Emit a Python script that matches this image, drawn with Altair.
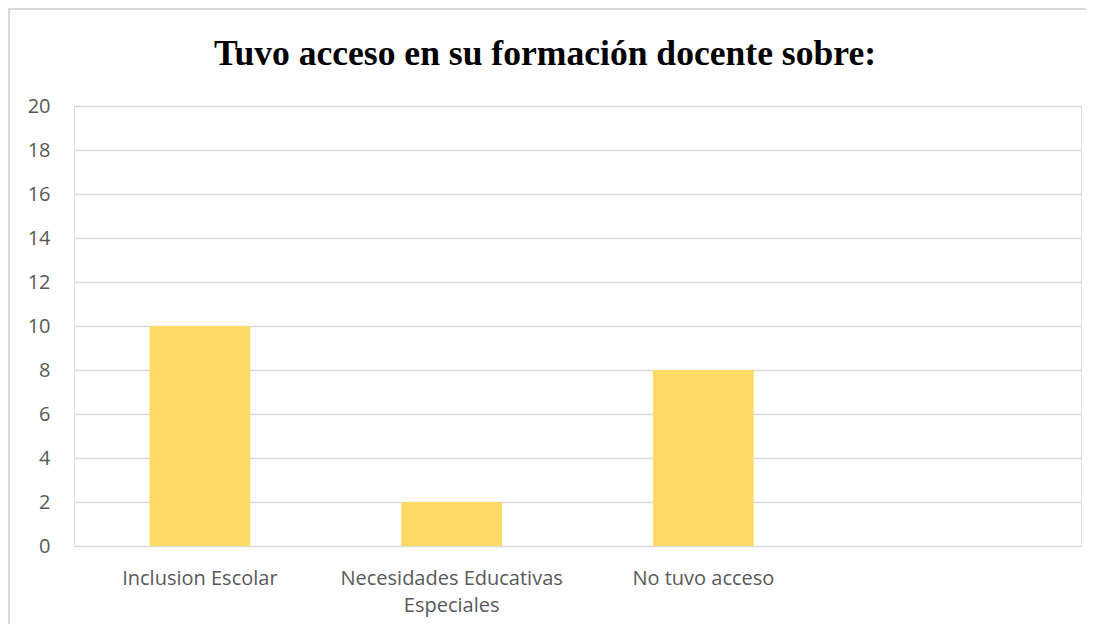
import altair as alt
import pandas as pd

title_text = ["Tuvo acceso en su formación docente sobre:"]
categories = ["Inclusion Escolar", "Necesidades Educativas Especiales", "No tuvo acceso"]
values = [10, 2, 8]
domain = categories + [" "]
y_ticks = [0, 2, 4, 6, 8, 10, 12, 14, 16, 18, 20]

df = pd.DataFrame({"cat": categories, "val": values})

W, H = 1007, 440

frame = alt.Chart(pd.DataFrame({"a": [0]})).mark_rect(
    fillOpacity=0, stroke="#D9D9D9", strokeWidth=2
).encode(
    x=alt.value(-65), x2=alt.value(1040), y=alt.value(-97), y2=alt.value(560)
)

title = alt.Chart(pd.DataFrame({"t": title_text})).mark_text(
    font="Liberation Serif", fontSize=35.6, fontWeight="bold", color="#000000",
    align="center", baseline="alphabetic"
).encode(
    text="t:N", x=alt.value(471), y=alt.value(-41)
)

bars = alt.Chart(df).mark_bar(color="#FFD966").encode(
    x=alt.X("cat:N", sort=domain,
            scale=alt.Scale(domain=domain, paddingInner=0.6, paddingOuter=0.3),
            axis=alt.Axis(title=None, labelAngle=0, domain=False, ticks=False,
                          labelPadding=22, labelFont="Open Sans", labelFontSize=20,
                          labelColor="#595959", labelLimit=400, labelLineHeight=27,
                          labelExpr="datum.label == 'Necesidades Educativas Especiales' ? ['Necesidades Educativas', 'Especiales'] : datum.label")),
    y=alt.Y("val:Q", scale=alt.Scale(domain=[0, 20], nice=False),
            axis=alt.Axis(title=None, values=y_ticks, domain=False, ticks=False,
                          labelPadding=24, labelFont="Open Sans", labelFontSize=20,
                          labelColor="#595959", gridColor="#D9D9D9", gridWidth=1.5)),
)

chart = alt.layer(frame, title, bars).properties(
    width=W, height=H,
    padding={"left": 66, "top": 98, "right": 5, "bottom": 78},
    autosize=alt.AutoSizeParams(type="none"),
).configure_view(stroke="transparent", strokeWidth=0).configure(background="white")

chart.save("out.html", embed_options={"renderer": "svg", "actions": False})
